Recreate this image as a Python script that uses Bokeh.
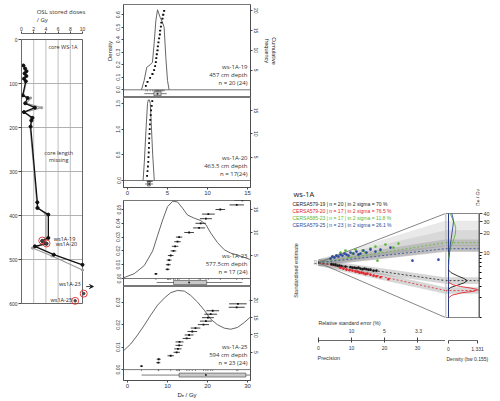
import numpy as np
from bokeh.plotting import figure
from bokeh.models import (Range1d, LinearAxis, FixedTicker, NumeralTickFormatter,
                          Title, Span, Spacer, Arrow, VeeHead)
from bokeh.layouts import row, column
from bokeh.core.properties import value
from bokeh.embed import file_html
from bokeh.resources import INLINE

AX = "Liberation Sans"
LB = "Open Sans"

# ================= DATA =================
# --- depth profile, core WS-1A (stored dose in Gy vs depth in cm) ---
prof_depth = [59, 66, 72, 77, 83, 89, 95, 127, 133, 145, 155, 165, 178, 184, 198,
              370, 383, 398, 451, 458, 464, 470, 489, 512]
prof_dose = [0.3, 0.6, 0.8, 0.5, 0.8, 0.4, 0.7, 0.2, 1.0, 0.6, 2.2, 0.4, 1.8, 1.6, 1.5,
             2.6, 2.6, 4.4, 4.4, 3.4, 4.1, 2.2, 5.3, 10.0]
prof_depth_alt = [59, 66, 72, 77, 83, 89, 95, 127, 133, 145, 155, 165, 178, 184, 198,
                  370, 383, 398, 451, 458, 464, 474, 492, 524]
prof_dose_alt = [0.4, 0.5, 0.9, 0.6, 0.7, 0.5, 0.8, 0.3, 1.5, 0.8, 3.3, 0.5, 1.6, 1.8, 1.4,
                 2.5, 2.8, 4.0, 4.0, 3.6, 3.9, 1.8, 5.0, 10.0]
samp_labels = ["ws1A-19", "ws1A-20", "ws1A-23", "ws1A-25"]
samp_depth = [457, 463.5, 577.5, 594]
samp_dose = [3.4, 4.1, 10.2, 8.8]
dose_ticks = [0, 2, 4, 6, 8, 10]
depth_ticks = [0, 100, 200, 300, 400, 500, 600]

# --- single-grain De distributions (cumulative + KDE + boxplot) ---
p_names = ["ws-1A-19", "ws-1A-20", "ws-1A-23", "ws-1A-25"]
p_depths = ["457 cm depth", "463.5 cm depth", "577.5cm depth", "594 cm depth"]
p_ns = ["n = 20 (24)", "n = 17(24)", "n = 17 (24)", "n = 23 (24)"]

de19 = [2.29, 2.50, 2.83, 3.12, 3.33, 3.46, 3.54, 3.60, 3.66, 3.75, 3.79, 3.87, 3.95,
        4.04, 4.08, 4.17, 4.25, 4.37, 4.46, 4.58]
err19 = [0.10, 0.12, 0.10, 0.14, 0.12, 0.10, 0.12, 0.11, 0.12, 0.14, 0.12, 0.10, 0.13,
         0.12, 0.14, 0.12, 0.15, 0.13, 0.16, 0.15]
kde19_x = [1.75, 2.08, 2.41, 2.83, 3.12, 3.33, 3.54, 3.75, 4.08, 4.37, 4.58, 4.79, 5.0, 5.2]
kde19_y = [0.0, 0.074, 0.18, 0.20, 0.22, 0.37, 0.55, 0.64, 0.58, 0.54, 0.50, 0.26, 0.074, 0.0]
box19 = [2.1, 3.3, 3.75, 4.2, 4.9]

de20 = [2.45, 2.50, 2.55, 2.60, 2.62, 2.65, 2.68, 2.70, 2.72, 2.75, 2.78, 2.80, 2.85,
        2.90, 2.95, 3.02, 3.10]
err20 = [0.08, 0.07, 0.08, 0.07, 0.08, 0.08, 0.07, 0.08, 0.09, 0.08, 0.08, 0.09, 0.08,
         0.09, 0.09, 0.10, 0.10]
kde20_x = [1.95, 2.10, 2.30, 2.50, 2.60, 2.75, 2.85, 3.00, 3.15, 3.35]
kde20_y = [0.0, 0.35, 0.95, 1.50, 1.57, 1.57, 1.50, 1.00, 0.50, 0.0]
box20 = [2.2, 2.5, 2.7, 2.85, 3.2]

de23 = [7.1, 10.0, 10.2, 10.4, 10.8, 11.5, 11.9, 12.5, 12.9, 15.4, 17.9, 18.3, 19.6,
        20.2, 23.2, 27.3, 28.7]
err23 = [0.4, 0.5, 0.6, 0.6, 0.7, 0.7, 0.8, 0.8, 0.8, 1.2, 1.5, 1.3, 1.5, 1.6, 1.2, 1.8, 2.0]
kde23_x = [-1.0, 1.7, 4.2, 6.3, 7.5, 8.8, 10.0, 11.3, 12.5, 13.8, 15.0, 16.7, 18.3, 19.6,
           20.8, 22.5, 24.2, 25.8, 27.5, 29.2, 30.75]
kde23_y = [0.0005, 0.0035, 0.0094, 0.0200, 0.0310, 0.0425, 0.0520, 0.0560, 0.0555, 0.0508,
           0.0460, 0.0437, 0.0420, 0.0390, 0.0330, 0.0260, 0.0208, 0.0184, 0.0170, 0.0153, 0.0137]
box23 = [7.3, 11.5, 15.4, 19.8, 28.7]

de25 = [3.5, 7.7, 7.8, 10.8, 12.3, 12.6, 12.9, 13.0, 14.8, 15.4, 16.2, 17.0, 19.0, 19.6,
        20.1, 20.8, 21.3, 27.3, 27.6, 33.0, 36.0, 41.0, 48.0]
err25 = [0.3, 0.5, 0.5, 0.8, 0.8, 0.9, 0.9, 1.0, 1.0, 1.1, 1.2, 1.2, 1.4, 1.5, 1.5, 1.6,
         1.6, 2.0, 2.2, 2.5, 2.6, 3.0, 3.5]
kde25_x = [-1.0, 0.8, 2.5, 4.2, 5.8, 7.5, 9.2, 10.8, 12.5, 14.2, 15.8, 17.5, 19.2, 20.8,
           22.5, 24.2, 25.8, 27.5, 29.2, 30.75]
kde25_y = [0.0084, 0.0114, 0.0154, 0.0198, 0.0243, 0.0287, 0.0319, 0.0343, 0.0353, 0.0350,
           0.0331, 0.0301, 0.0265, 0.0225, 0.0200, 0.0185, 0.0180, 0.0188, 0.0210, 0.0235]
box25 = [3.5, 12.9, 19.6, 29.6, 33.0]

# --- abanico plot ---
ab_title = "ws-1A"
ab_names = ["CERSA579-19", "CERSA579-20", "CERSA585-23", "CERSA579-25"]
ab_n = [20, 17, 17, 23]
ab_in2s = ["70", "76.5", "11.8", "26.1"]
ab_colors = ["#1a1a1a", "#e4252b", "#5cb82e", "#2e4a9e"]
ab_central = [3.7, 2.6, 14.2, 11.5]
ab_spread_lo = [3.7, 2.6, 10.5, 10.5]
ab_spread_hi = [3.7, 2.6, 31.0, 22.0]
ab_ref_De = 7.0
ab_De_min, ab_De_max = 1.0, 40.0
ab_prec_max = 38.5
prec_ticks = [0, 10, 20, 30]
rse_vals = [10, 5, 3.3]
rse_labels = ["10", "5", "3.3"]
de_ticks = [10, 20, 30, 40]
de_minor = [1, 2, 3, 4, 5, 6, 7, 8, 9]
dens_max = 1.331

ab_prec = [
    [3.94, 4.55, 5.15, 5.76, 6.36, 6.97, 8.18, 9.70, 10.30, 10.91, 11.52, 12.12, 12.73,
     13.33, 13.94, 14.55, 15.15, 15.76, 16.67, 17.58],
    [6.67, 7.58, 8.48, 9.39, 10.30, 11.21, 11.82, 12.42, 13.03, 13.64, 14.24, 14.85,
     15.76, 16.67, 17.58, 18.79, 21.21],
    [4.24, 5.45, 6.67, 8.18, 9.09, 10.30, 11.21, 12.12, 13.33, 14.24, 15.76, 17.27,
     17.88, 18.79, 20.30, 22.73, 24.24],
    [3.64, 4.24, 4.85, 5.45, 6.06, 6.67, 7.27, 7.88, 8.48, 9.09, 9.70, 10.61, 11.52,
     12.12, 12.73, 13.64, 14.55, 15.76, 17.27, 18.79, 21.82, 28.48, 36.36],
]
ab_z = [
    [-2.05, -2.74, -2.74, -4.11, -4.11, -4.79, -5.48, -6.16, -6.85, -6.85, -7.53, -6.85,
     -8.22, -8.90, -8.22, -8.90, -9.59, -9.59, -10.96, -10.96],
    [-6.85, -8.22, -9.59, -10.27, -10.96, -12.33, -12.33, -13.70, -13.70, -14.38, -15.75,
     -15.07, -16.44, -17.81, -18.49, -19.86, -22.60],
    [8.22, 9.59, 13.70, 16.44, 8.22, 12.33, 17.81, 10.96, 16.44, 13.70, 19.18, 21.92,
     2.74, 16.44, 24.66, 20.55, 26.03],
    [5.48, 8.22, 6.85, 9.59, 8.22, 10.96, 9.59, 12.33, 10.96, 9.59, 13.70, 12.33, 15.07,
     10.96, 12.33, 16.44, 13.70, 17.81, 15.07, 17.81, 20.55, 2.74, 4.11],
]
dens_De = [
    [2.7, 2.9, 3.1, 3.4, 3.7, 4.0, 4.4, 4.9, 5.4],
    [2.0, 2.2, 2.4, 2.55, 2.7, 2.85, 3.0, 3.2, 3.5],
    [8.0, 10.0, 12.0, 14.0, 17.0, 20.0, 24.0, 28.0, 33.0, 40.0],
    [6.0, 8.0, 10.0, 13.0, 16.0, 20.0, 25.0, 30.0, 35.0, 40.0],
]
dens_val = [
    [0.0, 0.10, 0.35, 0.70, 0.86, 0.70, 0.40, 0.12, 0.0],
    [0.0, 0.15, 0.60, 1.20, 1.331, 1.00, 0.55, 0.20, 0.0],
    [0.0, 0.03, 0.10, 0.18, 0.27, 0.32, 0.33, 0.28, 0.18, 0.08],
    [0.0, 0.02, 0.05, 0.08, 0.12, 0.16, 0.20, 0.23, 0.20, 0.15],
]


def style_axis(ax, fs="5px"):
    ax.major_label_text_font = AX
    ax.major_label_text_font_size = fs
    ax.major_label_text_color = "#333"
    ax.axis_label_text_font = AX
    ax.axis_label_text_font_size = "6px"
    ax.axis_label_text_font_style = "normal"
    ax.axis_label_text_color = "#222222"
    ax.major_tick_out = 2
    ax.major_tick_in = 0
    ax.minor_tick_out = 0
    ax.minor_tick_in = 0
    ax.major_label_standoff = 1
    ax.axis_label_standoff = 1
    ax.axis_line_color = "#444"
    ax.major_tick_line_color = "#444"
    ax.axis_line_width = 0.8


# ================= LEFT: depth profile =================
L_W, L_H, L_LEFT, L_TOP = 100, 400, 21, 33
L_PX_DOSE, L_PX_CM, L_Y0 = 6.1, 0.44, 39
pL = figure(width=L_W, height=L_H,
            x_range=Range1d(0, (L_W - L_LEFT) / L_PX_DOSE),
            y_range=Range1d((L_H - L_Y0) / L_PX_CM, -(L_Y0 - L_TOP) / L_PX_CM),
            x_axis_location="above", output_backend="svg", toolbar_location=None,
            min_border_left=L_LEFT, min_border_right=0, min_border_top=L_TOP,
            min_border_bottom=0, title="OSL stored doses\n/ Gy")
pL.title.align = "center"
pL.title.offset = -9
pL.title.standoff = 0
pL.title.text_font = LB
pL.title.text_font_size = "6px"
pL.title.text_font_style = "normal"
pL.title.text_color = "#333"
pL.grid.visible = False
pL.outline_line_color = None
for ax in pL.xaxis:
    style_axis(ax)
    ax.ticker = FixedTicker(ticks=dose_ticks)
    ax.bounds = (0, 10)
for ax in pL.yaxis:
    style_axis(ax)
    ax.ticker = FixedTicker(ticks=depth_ticks)
    ax.bounds = (0, 600)
    ax.major_tick_out = 3

gx = dose_ticks[1:-1]
pL.segment(x0=gx, y0=[0] * len(gx), x1=gx, y1=[600] * len(gx), line_color="#b8b8b8", line_width=0.9)
gy = depth_ticks[1:-1]
pL.segment(x0=[0] * len(gy), y0=gy, x1=[10] * len(gy), y1=gy, line_color="#a8a8a8", line_width=0.9)
pL.segment(x0=[0, 10, 0], y0=[0, 0, 600], x1=[10, 10, 10], y1=[0, 600, 600],
           line_color="#555", line_width=0.9)

pL.line(prof_dose_alt, prof_depth_alt, line_color="#9a9a9a", line_width=1.2)
pL.scatter(prof_dose_alt, prof_depth_alt, size=2.2, color="#9a9a9a")
pL.line(prof_dose, prof_depth, line_color="#111", line_width=1.3)
pL.scatter(prof_dose, prof_depth, size=3, color="#111")
pL.scatter(samp_dose, samp_depth, size=7, fill_color=None, line_color="#e02828", line_width=0.9)
pL.scatter(samp_dose, samp_depth, size=2.5, color="#444")
pL.text(x=[d + o for d, o in zip(samp_dose[:2], [1.9, 1.5])],
        y=[d + o for d, o in zip(samp_depth[:2], [-3, 2])], text=samp_labels[:2],
        text_align="left", text_baseline="middle", text_font=value(LB),
        text_font_size="5.5px", text_color="#222")
pL.text(x=[d + o for d, o in zip(samp_dose[2:], [-0.5, -0.5])],
        y=[d + o for d, o in zip(samp_depth[2:], [-22, -1])], text=samp_labels[2:],
        text_align="right", text_baseline="middle", text_font=value(LB),
        text_font_size="5.5px", text_color="#222")
pL.add_layout(Arrow(end=VeeHead(size=4, line_color="#111", fill_color="#111", line_width=0.8),
                    x_start=samp_dose[2] + 0.4, y_start=samp_depth[2] - 16,
                    x_end=samp_dose[2] + 1.6, y_end=samp_depth[2] - 16,
                    line_color="#111", line_width=0.8))
pL.text(x=[6.8], y=[17], text=["core WS-1A"], text_align="center", text_baseline="middle",
        text_font=value(LB), text_font_size="5.5px", text_color="#333")
pL.text(x=[6.1, 6.1], y=[259, 273], text=["core length", "missing"], text_align="center",
        text_baseline="middle", text_font=value(LB), text_font_size="5.5px", text_color="#333")


# ================= MIDDLE: 4 De panels =================
M_W, M_LEFT, M_RIGHT = 190, 23, 40
M_FW = M_W - M_LEFT - M_RIGHT


def make_panel(de, err, kx, ky, box, idx, xr, H, b, s, c, dticks, dfmt, cticks, xticks,
               btop, bbot, show_x, xlabel=None, ylabel=None, clabel=None):
    lo, hi = -(H - b) / s, b / s
    p = figure(width=M_W, height=H + btop + bbot, x_range=Range1d(*xr),
               y_range=Range1d(lo, hi), output_backend="svg", toolbar_location=None,
               x_axis_location=("below" if show_x else None),
               min_border_left=M_LEFT, min_border_right=M_RIGHT, min_border_top=btop,
               min_border_bottom=bbot)
    p.extra_y_ranges = {"cum": Range1d(-(H - b) / c, b / c)}
    p.grid.visible = False
    p.outline_line_color = "#555"
    p.outline_line_width = 0.8
    pxu = (xr[1] - xr[0]) / float(M_FW)
    de = np.array(de, dtype=float)
    err = np.array(err, dtype=float)
    ranks = list(range(1, len(de) + 1))
    p.add_layout(Span(location=0, dimension="width", line_color="#555", line_width=0.8))
    p.line(kx, ky, line_color="#555", line_width=0.9)
    p.segment(x0=de - err, y0=ranks, x1=de + err, y1=ranks, y_range_name="cum",
              line_color="#111", line_width=0.8)
    p.scatter(de, ranks, marker="square", size=1.8, fill_color="#111", line_color=None,
              y_range_name="cum")
    yc = lo / 2.0
    hb = 2.0 / s
    p.segment(x0=[box[0]], y0=[yc], x1=[box[4]], y1=[yc], line_color="#444", line_width=0.7)
    p.quad(left=[box[1]], right=[box[3]], bottom=[yc - hb], top=[yc + hb],
           fill_color="#c8c8c8", line_color="#444", line_width=0.6)
    p.scatter(x=[box[2]], y=[yc], size=2.0, fill_color="#222", line_color=None)
    p.segment(x0=de, y0=[0] * len(de), x1=de, y1=[-1.5 / s] * len(de),
              line_color="#444", line_width=0.6)
    p.text(x=[xr[1] - 3 * pxu] * 3, y=[23 / s, 15 / s, 7 / s],
           text=[p_names[idx], p_depths[idx], p_ns[idx]], text_align="right",
           text_baseline="middle", text_font=value(LB), text_font_size="6px",
           text_color="#333")
    for ax in p.yaxis:
        style_axis(ax)
        ax.ticker = FixedTicker(ticks=dticks)
        ax.formatter = NumeralTickFormatter(format=dfmt)
        ax.major_label_orientation = "vertical"
        if ylabel:
            ax.axis_label = ylabel
    rax = LinearAxis(y_range_name="cum", ticker=FixedTicker(ticks=cticks))
    style_axis(rax)
    rax.major_label_orientation = "vertical"
    if clabel:
        rax.axis_label = clabel
        rax.axis_label_text_font_size = "5.5px"
        rax.axis_label_text_color = "#222222"
        rax.axis_label_standoff = 3
    p.add_layout(rax, "right")
    for ax in p.xaxis:
        style_axis(ax, "6px")
        ax.ticker = FixedTicker(ticks=xticks)
        if xlabel:
            ax.axis_label = xlabel
    return p


XR1 = (-0.5, -0.5 + M_FW / 8.0)
XR3 = (-1.0, -1.0 + M_FW / 4.0)
p1 = make_panel(de19, err19, kde19_x, kde19_y, box19, 0, XR1, 93, 85.3, 125, 3.95,
                [0, 0.1, 0.2, 0.3, 0.4, 0.5, 0.6], "0.0", [5, 10, 15, 20], [0, 5, 10, 15],
                4, 0, False, ylabel="Density", clabel="Cumulative\nfrequency")
p2 = make_panel(de20, err20, kde20_x, kde20_y, box20, 1, XR1, 90, 83, 51.3, 4.67,
                [0, 0.5, 1.0, 1.5], "0.0", [5, 10, 15], [0, 5, 10, 15], 0, 10, True)
p3 = make_panel(de23, err23, kde23_x, kde23_y, box23, 2, XR3, 86, 78, 1380, 4.6,
                [0, 0.01, 0.02, 0.03, 0.04, 0.05], "0.00", [5, 10, 15], [0, 10, 20, 30],
                3, 0, False)
p4 = make_panel(de25, err25, kde25_x, kde25_y, box25, 3, XR3, 95, 84, 2267, 3.5,
                [0, 0.01, 0.02, 0.03], "0.00", [5, 10, 15, 20], [0, 10, 20, 30],
                0, 19, True, "D\u2091 / Gy")

# ================= RIGHT: abanico plot =================
z0 = np.log(ab_ref_De)
xmax = ab_prec_max
W_BAND = 4.5
FR_TOP, FR_BOT = 185, 340          # page px of the abanico frame
BOX_TOP, BOX_BOT = 213, 317        # page px of De 40 and De 1
PREC0_PX, AB_LEFT_PX, AB_RIGHT_PX, PX_PER_PREC = 318, 290, 445, 3.3
lnpp = (np.log(ab_De_max) - np.log(ab_De_min)) / (BOX_BOT - BOX_TOP)


def ln_at(py):
    return np.log(ab_De_max) - (py - BOX_TOP) * lnpp


def z_at(py):
    return (ln_at(py) - z0) * xmax


def zline(De, x):
    return (np.log(De) - z0) * x


def prec_at(px):
    return (px - PREC0_PX) / PX_PER_PREC


AB_H = 180
pA = figure(width=AB_RIGHT_PX - AB_LEFT_PX, height=AB_H,
            x_range=Range1d(prec_at(AB_LEFT_PX), xmax),
            y_range=Range1d(z_at(FR_BOT), z_at(FR_TOP)), output_backend="svg",
            toolbar_location=None, y_axis_location=None,
            min_border_left=0, min_border_right=0, min_border_top=0,
            min_border_bottom=AB_H - (FR_BOT - FR_TOP))
pA.grid.visible = False
pA.outline_line_color = None

for i in range(4):
    lo_, hi_ = ab_spread_lo[i], ab_spread_hi[i]
    if hi_ > lo_:
        pA.patch([0, xmax, xmax, 0], [-W_BAND, zline(lo_, xmax), zline(hi_, xmax), W_BAND],
                 fill_color="#9a9a9a", fill_alpha=0.22, line_color=None)
for i in range(4):
    zc = zline(ab_central[i], xmax)
    pA.patch([0, xmax, xmax, 0], [-W_BAND, zc - W_BAND, zc + W_BAND, W_BAND],
             fill_color="#8c8c8c", fill_alpha=0.35, line_color=None)
pA.line([0, xmax], [0, zline(ab_De_max, xmax)], line_color="#666", line_width=0.8)
pA.line([0, xmax], [0, zline(ab_De_min, xmax)], line_color="#666", line_width=0.8)
for i in range(4):
    pA.line([0, xmax], [0, zline(ab_central[i], xmax)], line_color=ab_colors[i],
            line_dash="2 2", line_width=1.0, line_alpha=0.8)
for i in range(4):
    pA.scatter(ab_prec[i], ab_z[i], size=2.6, fill_color=ab_colors[i], line_color=None)

pA.text(x=[prec_at(293)], y=[z_at(193)], text=[ab_title],
        text_align="left", text_baseline="middle", text_font=value(LB),
        text_font_size="7.5px", text_color="#222")
leg_txt = [f"{ab_names[i]} | n = {ab_n[i]} | in 2 sigma = {ab_in2s[i]} %" for i in range(4)]
for i, py in enumerate([203, 210, 217, 224]):
    pA.text(x=[prec_at(292)], y=[z_at(py)], text=[leg_txt[i]],
            text_align="left", text_baseline="middle", text_font=value(AX),
            text_font_size="5px", text_color=ab_colors[i])
pA.text(x=[prec_at(296)], y=[z_at(270)], text=["Standardised estimate"],
        angle=np.pi / 2, text_align="center", text_baseline="middle", text_font=value(AX),
        text_font_size="5.5px", text_color="#333")
pA.segment(x0=[0], y0=[-2], x1=[0], y1=[2], line_color="#333", line_width=0.8)
pA.text(x=[-1.0, -1.0, -1.0], y=[-2.5, 0, 2.5], text=["-2", "0", "2"], angle=np.pi / 2,
        text_align="center", text_baseline="middle", text_font=value(AX),
        text_font_size="3px", text_color="#333")
pA.text(x=[100.0 / v for v in rse_vals], y=[z_at(330)] * 3, text=rse_labels,
        text_align="center", text_baseline="middle", text_font=value(AX),
        text_font_size="5px", text_color="#333")
pA.text(x=[0], y=[z_at(322)], text=["Relative standard error (%)"], text_align="left",
        text_baseline="middle", text_font=value(AX), text_font_size="5.2px", text_color="#333")
for ax in pA.xaxis:
    style_axis(ax)
    ax.ticker = FixedTicker(ticks=prec_ticks)
    ax.bounds = (0, xmax)
    ax.major_tick_in = 3
    ax.major_tick_out = 2
    ax.major_label_standoff = 3
pA.add_layout(Title(text="Precision", align="left", offset=PREC0_PX - AB_LEFT_PX - 1,
                    standoff=1, text_font=AX, text_font_size="5.5px",
                    text_font_style="normal", text_color="#333"), "below")

# density side panel
D_W, D_FW = 55, 34
ppu = 29.0 / dens_max
dx_lo, dx_hi = -3.0 / ppu, dens_max + (D_FW - 32) / ppu
pD = figure(width=D_W, height=AB_H, x_range=Range1d(dx_lo, dx_hi),
            y_range=Range1d(np.exp(ln_at(FR_BOT)), np.exp(ln_at(FR_TOP))),
            y_axis_type="log", y_axis_location="right", output_backend="svg",
            toolbar_location=None, min_border_left=0, min_border_right=D_W - D_FW,
            min_border_top=0, min_border_bottom=AB_H - (FR_BOT - FR_TOP))
pD.grid.visible = False
pD.outline_line_color = None
for i in range(4):
    lo_, hi_ = ab_spread_lo[i], ab_spread_hi[i]
    if hi_ > lo_:
        pD.quad(left=[dx_lo], right=[dx_hi], bottom=[lo_], top=[hi_], fill_color="#9a9a9a",
                fill_alpha=0.22, line_color=None)
for i in range(4):
    f = np.exp(W_BAND / xmax)
    pD.quad(left=[dx_lo], right=[dx_hi], bottom=[ab_central[i] / f], top=[ab_central[i] * f],
            fill_color="#8c8c8c", fill_alpha=0.35, line_color=None)
    pD.segment(x0=[dx_lo], y0=[ab_central[i]], x1=[dx_hi], y1=[ab_central[i]],
               line_color=ab_colors[i], line_dash="2 2", line_width=1.0, line_alpha=0.8)
pD.quad(left=[dx_lo + 0.01], right=[dx_hi - 0.03], bottom=[ab_De_min], top=[ab_De_max],
        fill_color=None, line_color="#777", line_width=0.9)
pD.segment(x0=[0], y0=[ab_De_min], x1=[0], y1=[ab_De_max], line_color="#2b3a80", line_width=1.0)
for i in [2, 3, 0, 1]:
    pD.line(dens_val[i], dens_De[i], line_color=ab_colors[i], line_width=0.9)
pD.text(x=[dx_lo + (477 - 445) / ppu], y=[np.exp(ln_at(197))], text=["De / Gy"],
        angle=np.pi / 2, text_align="center", text_baseline="middle", text_font=value(AX),
        text_font_size="5px", text_color="#333")
for ax in pD.yaxis:
    style_axis(ax, "5.5px")
    ax.ticker = FixedTicker(ticks=de_ticks, minor_ticks=de_minor)
    ax.formatter = NumeralTickFormatter(format="0")
    ax.bounds = (ab_De_min, ab_De_max)
    ax.major_tick_out = 3
    ax.minor_tick_out = 2
for ax in pD.xaxis:
    style_axis(ax)
    ax.ticker = FixedTicker(ticks=[0, dens_max])
    ax.bounds = (0, dens_max)
    ax.major_tick_out = 3
    ax.major_label_standoff = 3
pD.add_layout(Title(text="Density (bw 0.155)", align="left", offset=1, standoff=1,
                    text_font=AX, text_font_size="5px", text_font_style="normal",
                    text_color="#333"), "below")

right = column(Spacer(width=210, height=FR_TOP), row(pA, pD),
               Spacer(width=210, height=400 - FR_TOP - AB_H))
layout = row(pL, column(p1, p2, p3, p4), right)

open("out.html", "w").write(file_html(layout, INLINE, title="ws-1A"))
